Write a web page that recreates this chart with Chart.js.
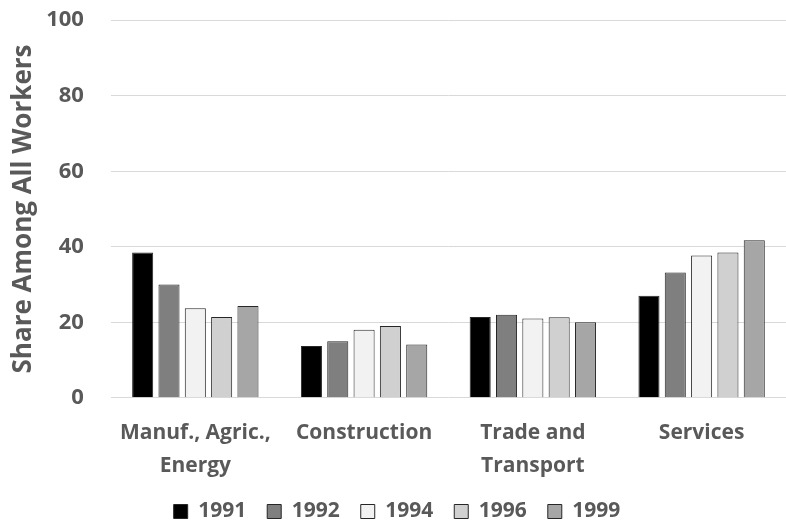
<!DOCTYPE html>
<html>
<head>
<meta charset="utf-8">
<script src="https://cdn.jsdelivr.net/npm/chart.js@4"></script>
<style>
  html, body { margin: 0; padding: 0; background: #fff; }
  #wrap { width: 786px; height: 521px; }
</style>
</head>
<body>
<div id="wrap"><canvas id="shareChart" width="786" height="521"></canvas></div>
<script>
// sectors and yearly shares (%)
const categories = [['Manuf., Agric.,', 'Energy'], 'Construction', ['Trade and', 'Transport'], 'Services'];
const years = ['1991', '1992', '1994', '1996', '1999'];
const share1991 = [38.5, 13.7, 21.4, 27.0];
const share1992 = [30.0, 15.0, 22.0, 33.2];
const share1994 = [23.7, 18.0, 21.0, 37.7];
const share1996 = [21.4, 19.0, 21.3, 38.5];
const share1999 = [24.3, 14.1, 20.0, 41.7];
const yTicks = [0, 20, 40, 60, 80, 100];

const FILLS = ['#000000', '#7f7f7f', '#f2f2f2', '#d0d0d0', '#a6a6a6'];
const TEXT = '#595959';
const FONT = "'Open Sans', 'Liberation Sans', sans-serif";

const series = [share1991, share1992, share1994, share1996, share1999];

new Chart(document.getElementById('shareChart'), {
    type: 'bar',
    data: {
        labels: categories,
        datasets: series.map((vals, i) => ({
            label: years[i],
            data: vals,
            backgroundColor: FILLS[i],
            borderColor: '#262626',
            borderWidth: 1,
            barPercentage: 0.8,
            categoryPercentage: 0.78
        }))
    },
    options: {
        responsive: false,
        animation: false,
        layout: { padding: { top: 4, right: 0, left: 8, bottom: -11 } },
        plugins: {
            legend: {
                position: 'bottom',
                labels: {
                    color: TEXT,
                    boxWidth: 14,
                    boxHeight: 14,
                    padding: 21,
                    font: { family: FONT, size: 21, weight: 'bold' }
                }
            },
            tooltip: { enabled: false }
        },
        scales: {
            x: {
                grid: { display: false },
                border: { display: false },
                ticks: {
                    color: TEXT,
                    maxRotation: 0,
                    font: { family: FONT, size: 21, weight: 'bold', lineHeight: 1.6 },
                    padding: 10
                },
                // let the labels hang a little into the legend's top padding
                afterFit: (scale) => { scale.height -= 13; }
            },
            y: {
                min: 0,
                max: 100,
                afterBuildTicks: (axis) => { axis.ticks = yTicks.map(v => ({ value: v })); },
                // transparent tick marks give the gap between labels and grid
                grid: { color: '#d9d9d9', drawTicks: true, tickLength: 20, tickColor: 'rgba(0,0,0,0)', lineWidth: 1 },
                border: { display: false },
                ticks: {
                    color: TEXT,
                    padding: 7,
                    font: { family: FONT, size: 22, weight: 'bold' }
                },
                title: {
                    display: true,
                    text: 'Share Among All Workers',
                    color: TEXT,
                    padding: { top: 0, bottom: 0 },
                    font: { family: FONT, size: 26, weight: 'bold' }
                }
            }
        }
    }
});
</script>
</body>
</html>
